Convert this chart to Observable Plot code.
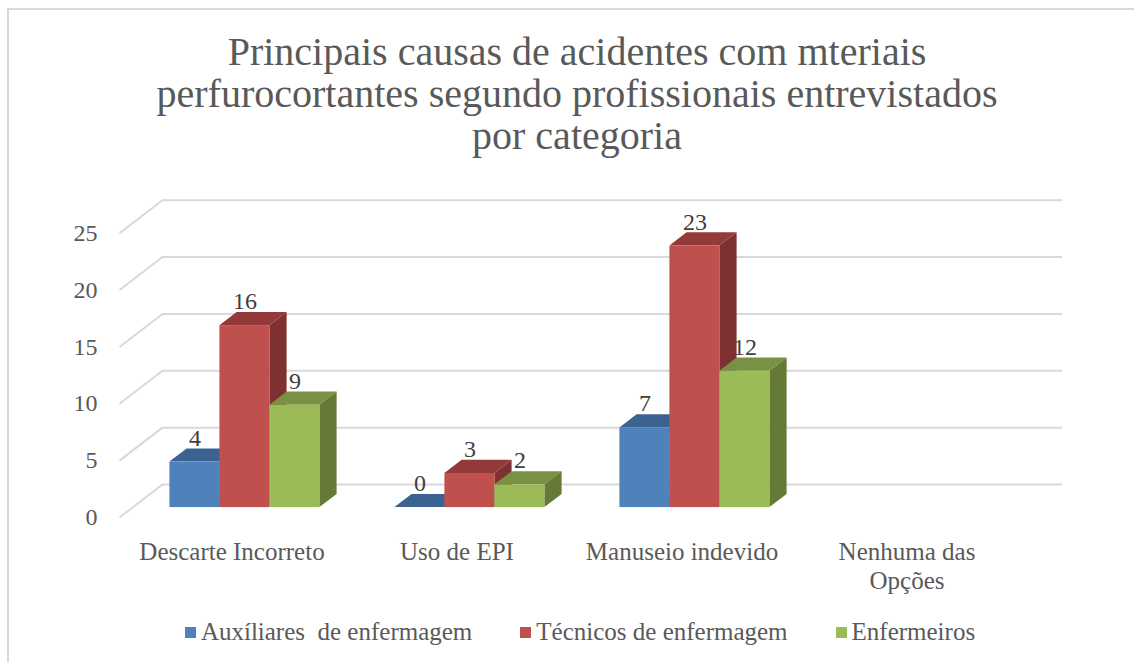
<!DOCTYPE html>
<html>
<head>
<meta charset="utf-8">
<script src="https://cdn.jsdelivr.net/npm/d3@7"></script>
<script src="https://cdn.jsdelivr.net/npm/@observablehq/plot@0.6"></script>
<style>
  html, body { margin: 0; padding: 0; background: #fff; }
  #wrap { position: relative; width: 1134px; height: 662px; overflow: hidden; font-family: "Liberation Serif", serif; color: #595959; }
  #frame { position: absolute; left: 7px; top: 8px; width: 1200px; height: 700px; border-left: 2px solid #d9d9d9; border-top: 2px solid #d9d9d9; box-sizing: border-box; }
  #chart { position: absolute; left: 0; top: 0; }
  #title { position: absolute; left: 0; width: 1154px; top: 31px; text-align: center; font-size: 40px; line-height: 42px; }
  #legend { position: absolute; left: 0; width: 1160px; top: 618px; display: flex; justify-content: center; gap: 48px; font-size: 25px; line-height: 28px; white-space: pre; }
  .item { display: flex; align-items: center; gap: 5px; }
  .sw { width: 11px; height: 11px; display: inline-block; }
</style>
</head>
<body>
<div id="wrap">
  <div id="frame"></div>
  <div id="chart"></div>
  <div id="title">Principais causas de acidentes com mteriais<br>perfurocortantes segundo profissionais entrevistados<br>por categoria</div>
  <div id="legend"></div>
</div>
<script>
// ---- data ----
const categories = ["Descarte Incorreto", "Uso de EPI", "Manuseio indevido", "Nenhuma das\nOpções"];
const seriesNames = ["Auxíliares  de enfermagem", "Técnicos de enfermagem", "Enfermeiros"];
const auxiliares = [4, 0, 7, null];
const tecnicos = [16, 3, 23, null];
const enfermeiros = [9, 2, 12, null];
const yTicks = [0, 5, 10, 15, 20, 25];

// ---- style ----
const frontColors = ["#4f81bd", "#c0504d", "#9bbb59"];
const topColors = ["#3b6290", "#933a38", "#789142"];
const sideColors = ["#33557e", "#7e3130", "#667a37"];

const W = 1134, H = 600;
const mL = 119, mR = 115, mT = 232.7, mB = 83;
const xUnit = (W - mL - mR) / categories.length;   // px per category
const yUnit = (H - mT - mB) / 25;                  // px per value unit
// 3D depth (pixels) of the whole floor and of the bars
const wallDX = 43, wallDY = 33;
const barFrontDX = 0.3 * wallDX, barFrontDY = 0.3 * wallDY;
const barDepthDX = 0.4 * wallDX, barDepthDY = 0.4 * wallDY;
const ddx = barDepthDX / xUnit, ddy = barDepthDY / yUnit; // depth in data units

const seriesValues = [auxiliares, tecnicos, enfermeiros];
const barW = (2 / 3) / seriesValues.length;
const rows = [];
categories.forEach((c, i) => {
  seriesValues.forEach((vals, j) => {
    const v = vals[i];
    if (v == null) return;
    const x1 = i + 1 / 6 + j * barW;
    rows.push({id: i * 3 + j, cat: c, j, value: v, x1, x2: x1 + barW, xc: x1 + barW / 2});
  });
});
const tops = rows.flatMap(d => [
  {id: d.id, j: d.j, y: d.value, xa: d.x1, xb: d.x2},
  {id: d.id, j: d.j, y: d.value + ddy, xa: d.x1 + ddx, xb: d.x2 + ddx}
]);
const sides = rows.flatMap(d => [
  {id: d.id, j: d.j, x: d.x2, y1: 0, y2: d.value},
  {id: d.id, j: d.j, x: d.x2 + ddx, y1: ddy, y2: d.value + ddy}
]);

const plot = Plot.plot({
  width: W, height: H,
  marginLeft: mL, marginRight: mR, marginTop: mT, marginBottom: mB,
  style: {fontFamily: "Liberation Serif, serif", color: "#595959", background: "transparent", overflow: "visible"},
  x: {domain: [0, categories.length], axis: null, label: null},
  y: {domain: [0, 25], axis: null, label: null},
  marks: [
    // back wall gridlines
    Plot.ruleY(yTicks, {y: d => d, x1: 0, x2: categories.length, dx: wallDX, dy: -wallDY, stroke: "#d9d9d9", strokeWidth: 2}),
    // left side-wall diagonals
    Plot.link(yTicks, {x1: 0, y1: d => d, x2: wallDX / xUnit, y2: d => d + wallDY / yUnit, stroke: "#d9d9d9", strokeWidth: 2}),
    // y tick labels
    Plot.axisY(yTicks, {tickSize: 0, tickPadding: 22, fontSize: 24, label: null, fill: "#595959"}),
    // bar sides
    Plot.areaY(sides, {x: "x", y1: "y1", y2: "y2", z: "id", fill: d => sideColors[d.j], dx: barFrontDX, dy: -barFrontDY}),
    // bar tops
    Plot.areaX(tops, {y: "y", x1: "xa", x2: "xb", z: "id", fill: d => topColors[d.j], dx: barFrontDX, dy: -barFrontDY}),
    // bar fronts
    Plot.rectY(rows, {x1: "x1", x2: "x2", y1: 0, y2: "value", fill: d => frontColors[d.j], dx: barFrontDX, dy: -barFrontDY}),
    // data labels
    Plot.text(rows, {x: "xc", y: "value", text: d => String(d.value), dx: barFrontDX, dy: -barFrontDY - 16.5, lineAnchor: "bottom", fontSize: 24, fill: "#404040"}),
    // category labels
    Plot.text(categories, {x: (d, i) => i + 0.5, y: () => 0, text: d => d, dy: 22, lineAnchor: "top", lineHeight: 1.15, fontSize: 25, fill: "#595959"})
  ]
});
document.getElementById("chart").appendChild(plot);

// legend
const legend = document.getElementById("legend");
seriesNames.forEach((s, j) => {
  const item = document.createElement("div");
  item.className = "item";
  const sw = document.createElement("span");
  sw.className = "sw";
  sw.style.background = frontColors[j];
  const t = document.createElement("span");
  t.textContent = s;
  item.appendChild(sw);
  item.appendChild(t);
  legend.appendChild(item);
});
</script>
</body>
</html>
